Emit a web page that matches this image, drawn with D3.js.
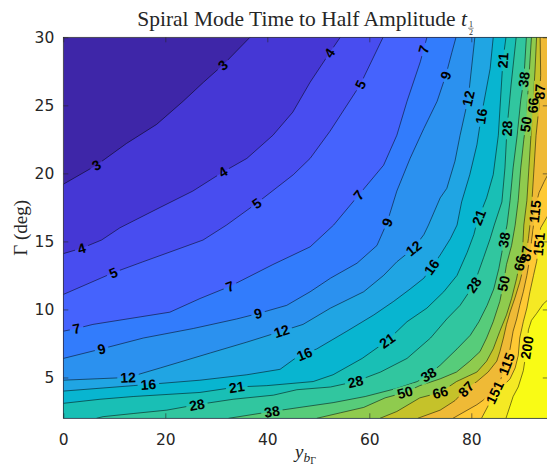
<!DOCTYPE html>
<html>
<head>
<meta charset="utf-8">
<script src="https://cdn.jsdelivr.net/npm/d3@7"></script>
<style>
  body { margin: 0; background: #fff; }
  svg { display: block; }
  .tick text { font-family: "DejaVu Sans", sans-serif; font-size: 15.5px; fill: #262626; }
  .tick line { stroke: #262626; stroke-width: 0.6; }
  .clabel { font-family: "Liberation Sans", Arial, sans-serif; font-weight: bold; font-size: 14px; fill: #000; }
  .serif { font-family: "Liberation Serif", "DejaVu Serif", serif; fill: #262626; }
</style>
</head>
<body>
<svg id="chart" width="547" height="469"></svg>
<script>
// axis ticks
var xTicks = [0, 20, 40, 60, 80];
var yTicks = [5, 10, 15, 20, 25, 30];

// contour levels (t_1/2) and fill colours (parula, one per band)
var levels = [3, 4, 5, 7, 9, 12, 16, 21, 28, 38, 50, 66, 87, 115, 151, 200];
var bandColors = ["#3e26a8", "#4537d5", "#484df0", "#4563fd", "#327cfc", "#2b91ef",
  "#20a5e3", "#08b5d0", "#19bfb5", "#31c69f", "#57cc7a", "#8fcb4e", "#c5c22a",
  "#efba36", "#fec934", "#f5e924", "#f9fb15"];

// contour lines, [y_b, Gamma]
var c3 = [[0,19.2],[6.5,20.6],[12.4,22.2],[18.3,23.6],[23.5,25.3],[27.5,26.7],[31.4,28.0],[36.6,30]];
var c4 = [[0,14.1],[3.6,14.5],[7.5,15.1],[11.1,16.0],[19.0,17.5],[25.4,18.7],[31.3,20.1],[36.0,21.1],[41.1,22.8],[45.0,24.5],[48.4,26.7],[52.3,28.9],[54.3,30]];
var c5 = [[0,11.1],[9.8,12.7],[15.6,13.5],[27.4,15.1],[32.0,16.2],[37.9,17.8],[45.1,19.9],[48.4,21.1],[52.3,23.1],[58.2,26.5],[62.7,30]];
var c7 = [[0,8.4],[2.6,8.6],[5.8,8.9],[20.9,9.8],[26.8,10.8],[32.7,11.7],[41.1,13.3],[48.4,14.6],[53.0,16.2],[57.9,18.4],[62.8,20.6],[65.4,22.8],[67.4,25.3],[70.0,28.2],[71.3,30]];
var c9 = [[0,6.4],[7.5,7.1],[15.7,7.9],[25.5,8.6],[34.0,9.3],[38.2,9.7],[43.8,10.3],[48.4,11.3],[52.4,12.3],[57.6,13.4],[61.5,14.7],[63.5,16.4],[65.4,18.7],[68.0,21.1],[70.7,23.3],[73.3,25.3],[75.0,27.2],[76.2,28.9],[77.0,30]];
var c12 = [[0,4.8],[12.7,5.0],[19.0,5.7],[28.8,6.8],[36.0,7.6],[42.8,8.4],[47.0,8.9],[52.4,10.1],[58.9,11.3],[62.8,12.5],[65.4,13.5],[68.7,14.5],[70.7,15.5],[71.6,16.2],[73.9,18.2],[75.2,18.9],[76.8,20.9],[77.8,22.8],[79.4,25.5],[80.7,30]];
var c16 = [[0,4.0],[13.7,4.4],[26.8,4.8],[36.0,5.2],[42.5,5.6],[45.8,6.5],[49.7,7.1],[55.6,8.4],[60.9,9.6],[64.8,10.6],[68.0,11.5],[70.7,12.3],[73.9,14.0],[75.9,15.2],[77.2,16.2],[78.1,17.9],[79.7,19.9],[81.1,22.1],[82.0,24.3],[83.7,27.7],[84.3,30]];
var c21 = [[0,3.1],[7.2,3.4],[13.7,3.6],[26.8,3.9],[34.0,4.3],[39.9,4.4],[49.0,4.7],[52.9,5.2],[58.6,6.4],[63.5,7.7],[67.4,9.1],[71.3,10.1],[74.6,11.3],[77.2,12.5],[79.2,14.2],[80.5,15.5],[81.1,16.4],[83.0,18.2],[84.3,19.9],[85.3,22.8],[86.2,28.3],[86.8,30]];
var c28 = [[6.5,2],[7.8,2.12],[13.7,2.35],[20.3,2.6],[26.2,3.0],[33.3,3.4],[41.2,3.7],[45.8,4.1],[52.4,4.3],[57.3,4.7],[62.2,5.4],[67.4,6.4],[72.0,7.9],[75.2,9.3],[77.8,10.3],[80.5,11.8],[82.4,13.8],[83.7,15.2],[84.5,16.2],[86.0,17.9],[86.6,20.4],[87.0,23.3],[87.8,26.5],[88.8,30]];
var c38 = [[32.4,2],[40.9,2.5],[46.4,2.8],[52.9,3.15],[59.2,3.6],[65.4,4.2],[69.4,4.7],[71.6,5.2],[73.9,5.9],[77.2,7.1],[79.8,8.1],[81.5,9.1],[83.1,10.3],[84.4,11.5],[85.4,13.0],[86.0,14.2],[86.4,15.1],[87.0,16.2],[87.6,18.0],[88.2,20.4],[89.0,22.8],[89.7,25.4],[90.3,26.9],[90.8,30]];
var c50 = [[49.7,2],[54.3,2.4],[58.9,2.8],[63.1,3.5],[67.0,3.9],[69.9,4.4],[73.9,4.9],[77.1,5.4],[79.7,6.2],[81.7,6.9],[83.0,7.9],[84.3,9.1],[85.6,10.6],[86.3,11.9],[86.9,13.3],[87.9,14.7],[88.6,16.2],[89.2,18.0],[89.7,20.4],[90.3,22.5],[90.7,23.6],[91.2,26.5],[91.8,30]];
var c66 = [[62.1,2],[65.4,2.5],[69.9,3.5],[73.9,3.9],[77.1,4.7],[81.1,5.4],[83.0,6.2],[84.3,7.1],[85.6,8.4],[86.9,9.6],[87.9,10.8],[88.9,12.3],[89.5,13.4],[90.1,14.7],[90.3,16.2],[90.9,18.0],[91.3,20.4],[91.7,22.8],[92.1,25.0],[92.5,27.6],[92.8,30]];
var c87 = [[69.5,2],[73.9,2.6],[76.8,3.3],[79.1,4.2],[81.1,4.7],[83.3,5.4],[85.0,6.2],[85.6,6.9],[86.3,7.9],[86.9,8.9],[87.6,9.8],[88.6,10.9],[89.5,12.0],[90.5,13.5],[91.2,15.2],[91.5,16.2],[91.9,18.0],[92.3,20.4],[92.7,22.8],[93.3,25.0],[93.6,27.2],[93.5,30]];
var c115 = [[76.4,2],[81.1,3.0],[83.7,3.7],[85.6,4.7],[86.9,6.0],[87.6,7.1],[88.2,8.4],[88.9,9.3],[89.5,10.3],[90.2,11.3],[90.9,12.5],[91.5,13.8],[91.8,15.0],[92.2,16.2],[92.6,17.6],[93.3,18.6],[94.3,19.4],[95,19.9]];
var c151 = [[82.0,2],[83.7,3.2],[84.6,3.9],[86.3,4.4],[87.6,4.9],[88.6,5.7],[89.2,6.6],[89.5,7.9],[90.2,9.1],[90.9,10.1],[91.5,11.3],[92.2,12.5],[92.8,13.5],[93.1,14.2],[93.3,15.0],[93.6,16.0],[95,16.9]];
var c200 = [[86.8,2],[88.2,3.6],[89.2,4.3],[90.2,5.5],[90.9,7.2],[91.2,8.5],[91.8,9.2],[92.8,9.7],[94.1,10.4],[95,10.7]];
var contourLines = [c3, c4, c5, c7, c9, c12, c16, c21, c28, c38, c50, c66, c87, c115, c151, c200];

// inline labels: [level index, y_b, Gamma]
var contourLabels = [
  [0,6.5,20.6],[0,31.2,28.0],
  [1,3.6,14.5],[1,31.3,20.1],[1,52.4,28.8],
  [2,9.8,12.7],[2,37.9,17.8],[2,58.4,26.5],
  [3,2.6,8.6],[3,32.7,11.7],[3,57.9,18.4],[3,70.7,29.1],
  [4,7.5,7.1],[4,38.2,9.7],[4,63.5,16.4],[4,75.0,27.2],
  [5,12.7,5.0],[5,42.8,8.4],[5,68.7,14.5],[5,79.4,25.5],
  [6,16.7,4.4],[6,47.2,6.8],[6,72.3,13.1],[6,82.0,24.2],
  [7,34.0,4.3],[7,63.5,7.7],[7,81.3,16.8],[7,86.2,28.3],
  [8,26.2,3.0],[8,57.3,4.7],[8,80.5,11.8],[8,87.0,23.3],
  [9,40.9,2.5],[9,71.6,5.2],[9,86.4,15.1],[9,90.3,26.9],
  [10,67.0,3.9],[10,86.3,11.9],[10,90.7,23.6],
  [11,73.9,3.9],[11,89.5,13.4],[11,92.1,25.0],
  [12,79.1,4.1],[12,90.9,14.1],[12,93.4,26.0],
  [13,86.9,6.0],[13,92.5,17.2],
  [14,84.6,3.9],[14,93.2,14.8],
  [15,90.9,7.2]
];

var svg = d3.select("#chart"),
  W = +svg.attr("width"),
  H = +svg.attr("height");

var x = d3.scaleLinear().domain([0, 95]).range([63.3, 547.8]);
var y = d3.scaleLinear().domain([2, 30]).range([418.3, 37.3]);
var xMin = x.domain()[0], xMax = x.domain()[1],
  yMin = y.domain()[0], yMax = y.domain()[1];

var defs = svg.append("defs");
defs.append("clipPath").attr("id", "plot-clip")
  .append("rect")
  .attr("x", x(xMin)).attr("y", y(yMax))
  .attr("width", x(xMax) - x(xMin)).attr("height", y(yMin) - y(yMax));

var mask = defs.append("mask").attr("id", "gaps")
  .attr("maskUnits", "userSpaceOnUse")
  .attr("x", 0).attr("y", 0).attr("width", W).attr("height", H);
mask.append("rect").attr("width", W).attr("height", H).attr("fill", "#fff");

var line = d3.line().x(function (d) { return x(d[0]); }).y(function (d) { return y(d[1]); });

// region at or above a level: the contour closed round the lower right corner
function regionAbove(path) {
  var pts = path.slice(),
    s = pts[0], e = pts[pts.length - 1];
  if (e[1] >= yMax) pts.push([xMax, yMax]);
  pts.push([xMax, yMin]);
  if (s[0] <= xMin) pts.push([xMin, yMin]);
  return pts;
}

var gFill = svg.append("g").attr("clip-path", "url(#plot-clip)");
gFill.append("rect")
  .attr("x", x(xMin)).attr("y", y(yMax))
  .attr("width", x(xMax) - x(xMin)).attr("height", y(yMin) - y(yMax))
  .attr("fill", bandColors[0]);
gFill.selectAll("path.band")
  .data(contourLines)
  .enter().append("path")
    .attr("class", "band")
    .attr("d", function (d) { return line(regionAbove(d)) + "Z"; })
    .attr("fill", function (d, i) { return bandColors[i + 1]; });

var gLines = svg.append("g")
  .attr("clip-path", "url(#plot-clip)")
  .append("g")
  .attr("mask", "url(#gaps)");
gLines.selectAll("path")
  .data(contourLines)
  .enter().append("path")
    .attr("d", line)
    .attr("fill", "none")
    .attr("stroke", "#000")
    .attr("stroke-opacity", 0.85)
    .attr("stroke-width", 0.6);

// put each label on its line, turned along it
function onPath(path, p) {
  var pts = path.map(function (d) { return [x(d[0]), y(d[1])]; }),
    best = null;
  for (var i = 0; i < pts.length - 1; i++) {
    var a = pts[i], b = pts[i + 1],
      dx = b[0] - a[0], dy = b[1] - a[1],
      t = ((p[0] - a[0]) * dx + (p[1] - a[1]) * dy) / (dx * dx + dy * dy);
    t = Math.max(0, Math.min(1, t));
    var q = [a[0] + t * dx, a[1] + t * dy],
      dist = Math.hypot(q[0] - p[0], q[1] - p[1]);
    if (!best || dist < best.dist) {
      var ang = Math.atan2(dy, dx) * 180 / Math.PI;
      if (ang > 90) ang -= 180;
      if (ang < -90) ang += 180;
      best = {q: q, dist: dist, angle: ang};
    }
  }
  return best;
}

var gLabels = svg.append("g");
contourLabels.forEach(function (d) {
  var pos = onPath(contourLines[d[0]], [x(d[1]), y(d[2])]);
  var tr = "translate(" + pos.q[0] + "," + pos.q[1] + ") rotate(" + pos.angle + ")";
  var t = gLabels.append("text")
    .attr("class", "clabel")
    .attr("transform", tr)
    .attr("text-anchor", "middle")
    .attr("dy", "0.36em")
    .text(levels[d[0]]);
  var w = t.node().getComputedTextLength() + 6;
  mask.append("rect")
    .attr("transform", tr)
    .attr("x", -w / 2).attr("y", -6.5)
    .attr("width", w).attr("height", 13)
    .attr("fill", "#000");
});

// axes, ticks inside on all four sides
svg.append("g")
  .attr("transform", "translate(0," + y(yMin) + ")")
  .call(d3.axisBottom(x).tickValues(xTicks).tickSizeInner(-5).tickSizeOuter(0).tickPadding(16))
  .call(function (g) { g.select(".domain").remove(); });
svg.append("g")
  .attr("transform", "translate(0," + y(yMax) + ")")
  .call(d3.axisTop(x).tickValues(xTicks).tickSizeInner(-5).tickSizeOuter(0).tickFormat(""))
  .call(function (g) { g.select(".domain").remove(); });
svg.append("g")
  .attr("transform", "translate(" + x(xMin) + ",0)")
  .call(d3.axisLeft(y).tickValues(yTicks).tickSizeInner(-5).tickSizeOuter(0).tickPadding(9))
  .call(function (g) { g.select(".domain").remove(); });
svg.append("g")
  .attr("transform", "translate(" + x(xMax) + ",0)")
  .call(d3.axisRight(y).tickValues(yTicks).tickSizeInner(-5).tickSizeOuter(0).tickFormat(""))
  .call(function (g) { g.select(".domain").remove(); });
svg.selectAll(".tick text").attr("font-family", null).attr("font-size", null);

svg.append("rect")
  .attr("x", x(xMin)).attr("y", y(yMax))
  .attr("width", x(xMax) - x(xMin)).attr("height", y(yMin) - y(yMax))
  .attr("fill", "none")
  .attr("stroke", "#262626")
  .attr("stroke-width", 0.7);

// title with t_(1/2)
var title = svg.append("text").attr("class", "serif").attr("y", 26).attr("font-size", 21.5);
title.append("tspan").text("Spiral Mode Time to Half Amplitude ");
title.append("tspan").attr("font-style", "italic").text("t");
var tw = title.node().getComputedTextLength(),
  x0 = (x(xMin) + x(xMax)) / 2 - (tw + 7) / 2;
title.attr("x", x0);
var fx = x0 + tw + 4;
svg.append("text").attr("class", "serif").attr("x", fx).attr("y", 26.5)
  .attr("text-anchor", "middle").attr("font-size", 8).text("1");
svg.append("line").attr("x1", fx - 2.8).attr("x2", fx + 2.8)
  .attr("y1", 28.2).attr("y2", 28.2).attr("stroke", "#262626").attr("stroke-width", 0.5);
svg.append("text").attr("class", "serif").attr("x", fx).attr("y", 35)
  .attr("text-anchor", "middle").attr("font-size", 8).text("2");

// axis titles
svg.append("text").attr("class", "serif")
  .attr("transform", "translate(27," + (y(yMin) + y(yMax)) / 2 + ") rotate(-90)")
  .attr("text-anchor", "middle").attr("font-size", 19)
  .text("Γ (deg)");

var xl = svg.append("text").attr("class", "serif")
  .attr("x", (x(xMin) + x(xMax)) / 2).attr("y", 458)
  .attr("text-anchor", "middle");
xl.append("tspan").attr("font-style", "italic").attr("font-size", 19).text("y");
xl.append("tspan").attr("font-style", "italic").attr("font-size", 13.5).attr("dy", 3.5).text("b");
xl.append("tspan").attr("font-size", 10).attr("dy", 2.5).text("Γ");
</script>
</body>
</html>
